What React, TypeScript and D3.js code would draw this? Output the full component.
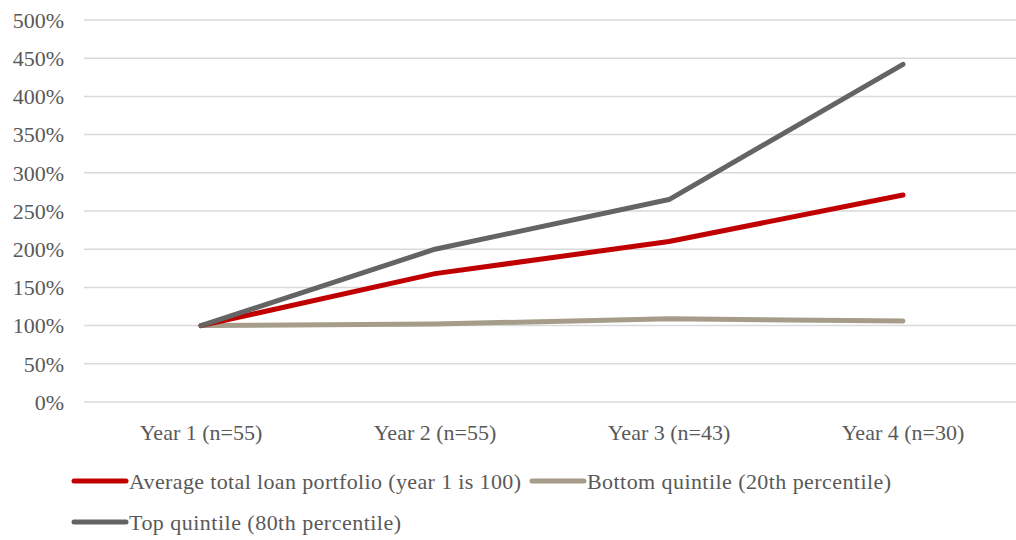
import React from "react";
import * as d3 from "d3";

const categories = ["Year 1 (n=55)", "Year 2 (n=55)", "Year 3 (n=43)", "Year 4 (n=30)"];
const averageValues = [100, 168, 210, 271];
const bottomValues = [100, 102, 109, 106];
const topValues = [100, 200, 265, 442];
const yTicks = [0, 50, 100, 150, 200, 250, 300, 350, 400, 450, 500];
const seriesNames = [
  "Average total loan portfolio (year 1 is 100)",
  "Bottom quintile (20th percentile)",
  "Top quintile (80th percentile)",
];
const seriesColors = ["#C00000", "#A59C8A", "#646464"];

const W = 1016;
const H = 540;
const FONT = "'Liberation Serif', 'Times New Roman', serif";
const TEXT = "#595959";
const FS = 22;

export default function App() {
  const x = d3.scaleBand<string>().domain(categories).range([84, 1020]);
  const y = d3.scaleLinear().domain([0, 500]).range([402, 20]);
  const cx = (c: string) => (x(c) ?? 0) + x.bandwidth() / 2;
  const line = d3
    .line<number>()
    .x((_, i) => cx(categories[i]))
    .y((v) => y(v));

  const series = [averageValues, bottomValues, topValues];
  const drawOrder = [1, 0, 2];

  const legendItems = [
    { i: 0, lx: 72, ty: 481, tl: 392 },
    { i: 1, lx: 530, ty: 481, tl: 304 },
    { i: 2, lx: 72, ty: 522, tl: 272 },
  ];

  return (
    <svg width={W} height={H} style={{ position: "absolute", left: 0, top: 0, background: "#fff" }}>
      <rect width={W} height={H} fill="#fff" />
      {yTicks.map((t) => (
        <g key={t}>
          <line x1={84} x2={1020} y1={y(t)} y2={y(t)} stroke="#D9D9D9" strokeWidth={1.5} />
          <text
            x={64}
            y={y(t)}
            dy="0.35em"
            textAnchor="end"
            fontFamily={FONT}
            fontSize={FS}
            fill={TEXT}
          >
            {t}%
          </text>
        </g>
      ))}
      {categories.map((c) => (
        <text
          key={c}
          x={cx(c)}
          y={432}
          dy="0.35em"
          textAnchor="middle"
          fontFamily={FONT}
          fontSize={FS}
          fill={TEXT}
        >
          {c}
        </text>
      ))}
      {drawOrder.map((i) => (
        <path
          key={i}
          d={line(series[i]) ?? ""}
          fill="none"
          stroke={seriesColors[i]}
          strokeWidth={5}
          strokeLinecap="round"
          strokeLinejoin="round"
        />
      ))}
      {legendItems.map(({ i, lx, ty, tl }) => (
        <g key={i}>
          <line
            x1={lx + 2}
            x2={lx + 54}
            y1={ty}
            y2={ty}
            stroke={seriesColors[i]}
            strokeWidth={5}
            strokeLinecap="round"
          />
          <text
            x={lx + 57}
            y={ty}
            dy="0.35em"
            fontFamily={FONT}
            fontSize={FS}
            fill={TEXT}
            textLength={tl}
            lengthAdjust="spacing"
          >
            {seriesNames[i]}
          </text>
        </g>
      ))}
    </svg>
  );
}
